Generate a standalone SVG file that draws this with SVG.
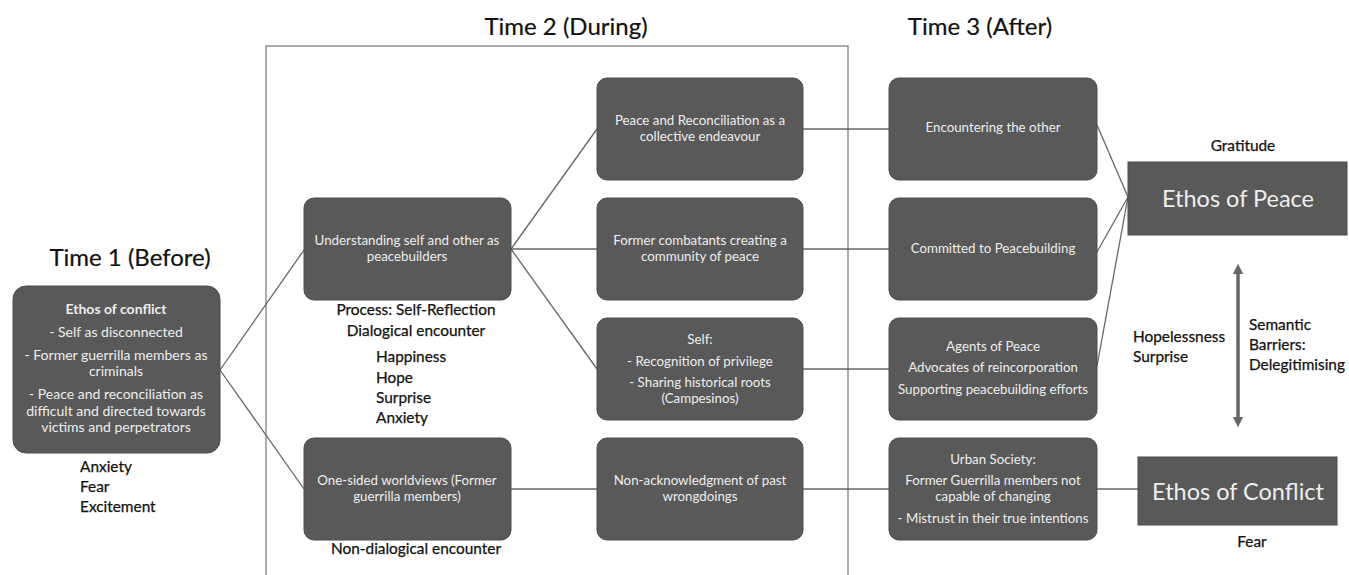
<svg xmlns="http://www.w3.org/2000/svg" width="1349" height="575" viewBox="0 0 1349 575">
<defs>
<style>
.node{fill:#595959;stroke:#4d4d4d;stroke-width:1}
.nt{font-family:Lato,"Open Sans",sans-serif;font-size:13.3px;fill:#eeeeee;text-anchor:middle}
.nt1{font-size:14px}
.title{font-family:Lato,"Open Sans",sans-serif;font-size:24px;fill:#111;stroke:#111;stroke-width:0.2}
.lab{font-family:Lato,"Open Sans",sans-serif;font-size:15.4px;fill:#111;stroke:#111;stroke-width:0.25}
.big{font-family:Lato,"Open Sans",sans-serif;font-size:23.5px;fill:#eeeeee;text-anchor:middle}
.con{stroke:#666;stroke-width:1.3;fill:none}
</style>
<marker id="ah" viewBox="0 0 10 10" refX="5" refY="5" markerWidth="3" markerHeight="3.5" orient="auto-start-reverse" markerUnits="strokeWidth">
<path d="M0,0 L10,5 L0,10 z" fill="#666"/>
</marker>
</defs>
<rect width="1349" height="575" fill="#fff"/>
<rect x="266" y="46" width="582" height="540" fill="none" stroke="#808080" stroke-width="1.3"/>
<text class="title" x="130" y="266" text-anchor="middle">Time 1 (Before)</text>
<text class="title" x="566" y="35" text-anchor="middle">Time 2 (During)</text>
<text class="title" x="980" y="35" text-anchor="middle">Time 3 (After)</text>
<g id="connectors">
<line class="con" x1="220" y1="370" x2="304" y2="250"/>
<line class="con" x1="220" y1="370" x2="304" y2="489"/>
<line class="con" x1="511" y1="249" x2="597" y2="129"/>
<line class="con" x1="511" y1="249" x2="597" y2="249"/>
<line class="con" x1="511" y1="249" x2="597" y2="369"/>
<line class="con" x1="511" y1="489" x2="597" y2="489"/>
<line class="con" x1="803" y1="129" x2="889" y2="129"/>
<line class="con" x1="803" y1="249" x2="889" y2="249"/>
<line class="con" x1="803" y1="369" x2="889" y2="369"/>
<line class="con" x1="803" y1="489" x2="889" y2="489"/>
<line class="con" x1="1097" y1="125" x2="1128" y2="197"/>
<line class="con" x1="1097" y1="252" x2="1128" y2="197"/>
<line class="con" x1="1097" y1="366" x2="1128" y2="197"/>
<line class="con" x1="1097" y1="489" x2="1138" y2="489"/>
<line x1="1238" y1="269" x2="1238" y2="422" stroke="#666" stroke-width="3.5" marker-start="url(#ah)" marker-end="url(#ah)"/>
</g>
<g id="n-ethos-conflict-t1">
<rect class="node" x="13" y="286" width="207" height="167" rx="13"/>
<text class="nt nt1" x="116" y="314" font-weight="bold">Ethos of conflict</text>
<text class="nt nt1" x="116" y="337">- Self as disconnected</text>
<text class="nt nt1" x="116" y="360">- Former guerrilla members as</text>
<text class="nt nt1" x="116" y="376">criminals</text>
<text class="nt nt1" x="116" y="399">- Peace and reconciliation as</text>
<text class="nt nt1" x="116" y="416">difficult and directed towards</text>
<text class="nt nt1" x="116" y="432">victims and perpetrators</text>
</g>
<g id="t1-emotions">
<text class="lab" x="80" y="472">Anxiety</text>
<text class="lab" x="80" y="492">Fear</text>
<text class="lab" x="80" y="512">Excitement</text>
</g>
<g id="n-understanding">
<rect class="node" x="304" y="198" width="207" height="102" rx="10"/>
<text class="nt" x="407" y="245">Understanding self and other as</text>
<text class="nt" x="407" y="261">peacebuilders</text>
</g>
<g id="t2-labels">
<text class="lab" x="416" y="315" text-anchor="middle" font-size="16.7">Process: Self-Reflection</text>
<text class="lab" x="416" y="336" text-anchor="middle" font-size="16.7">Dialogical encounter</text>
<text class="lab" x="376" y="362">Happiness</text>
<text class="lab" x="376" y="383">Hope</text>
<text class="lab" x="376" y="403">Surprise</text>
<text class="lab" x="376" y="423">Anxiety</text>
<text class="lab" x="416" y="554" text-anchor="middle" font-size="16.2">Non-dialogical encounter</text>
</g>
<g id="n-onesided">
<rect class="node" x="304" y="438" width="207" height="102" rx="10"/>
<text class="nt" x="407" y="485">One-sided worldviews (Former</text>
<text class="nt" x="407" y="501">guerrilla members)</text>
</g>
<g id="n-peace-rec">
<rect class="node" x="597" y="78" width="206" height="102" rx="10"/>
<text class="nt" x="700" y="125">Peace and Reconciliation as a</text>
<text class="nt" x="700" y="141">collective endeavour</text>
</g>
<g id="n-former-combatants">
<rect class="node" x="597" y="198" width="206" height="102" rx="10"/>
<text class="nt" x="700" y="245">Former combatants creating a</text>
<text class="nt" x="700" y="261">community of peace</text>
</g>
<g id="n-self">
<rect class="node" x="597" y="318" width="206" height="102" rx="10"/>
<text class="nt" x="700" y="344">Self:</text>
<text class="nt" x="700" y="366">- Recognition of privilege</text>
<text class="nt" x="700" y="387">- Sharing historical roots</text>
<text class="nt" x="700" y="403">(Campesinos)</text>
</g>
<g id="n-nonack">
<rect class="node" x="597" y="438" width="206" height="102" rx="10"/>
<text class="nt" x="700" y="485">Non-acknowledgment of past</text>
<text class="nt" x="700" y="501">wrongdoings</text>
</g>
<g id="n-encountering">
<rect class="node" x="889" y="78" width="208" height="102" rx="10"/>
<text class="nt" x="993" y="132">Encountering the other</text>
</g>
<g id="n-committed">
<rect class="node" x="889" y="198" width="208" height="102" rx="10"/>
<text class="nt" x="993" y="253">Committed to Peacebuilding</text>
</g>
<g id="n-agents">
<rect class="node" x="889" y="318" width="208" height="102" rx="10"/>
<text class="nt" x="993" y="351">Agents of Peace</text>
<text class="nt" x="993" y="372">Advocates of reincorporation</text>
<text class="nt" x="993" y="394">Supporting peacebuilding efforts</text>
</g>
<g id="n-urban">
<rect class="node" x="889" y="438" width="208" height="102" rx="10"/>
<text class="nt" x="993" y="464">Urban Society:</text>
<text class="nt" x="993" y="485">Former Guerrilla members not</text>
<text class="nt" x="993" y="501">capable of changing</text>
<text class="nt" x="993" y="523">- Mistrust in their true intentions</text>
</g>
<g id="n-ethos-peace">
<rect class="node" x="1128" y="162" width="219" height="73"/>
<text class="big" x="1238" y="207">Ethos of Peace</text>
</g>
<g id="n-ethos-conflict">
<rect class="node" x="1138" y="457" width="199" height="68"/>
<text class="big" x="1238" y="500">Ethos of Conflict</text>
</g>
<g id="t3-labels">
<text class="lab" x="1243" y="151" text-anchor="middle" font-size="14">Gratitude</text>
<text class="lab" x="1133" y="342" font-size="14.4">Hopelessness</text>
<text class="lab" x="1133" y="362" font-size="14.4">Surprise</text>
<text class="lab" x="1249" y="330" font-size="14.6">Semantic</text>
<text class="lab" x="1249" y="350" font-size="14.6">Barriers:</text>
<text class="lab" x="1249" y="370" font-size="14.6">Delegitimising</text>
<text class="lab" x="1252" y="547" text-anchor="middle" font-size="14">Fear</text>
</g>
</svg>
